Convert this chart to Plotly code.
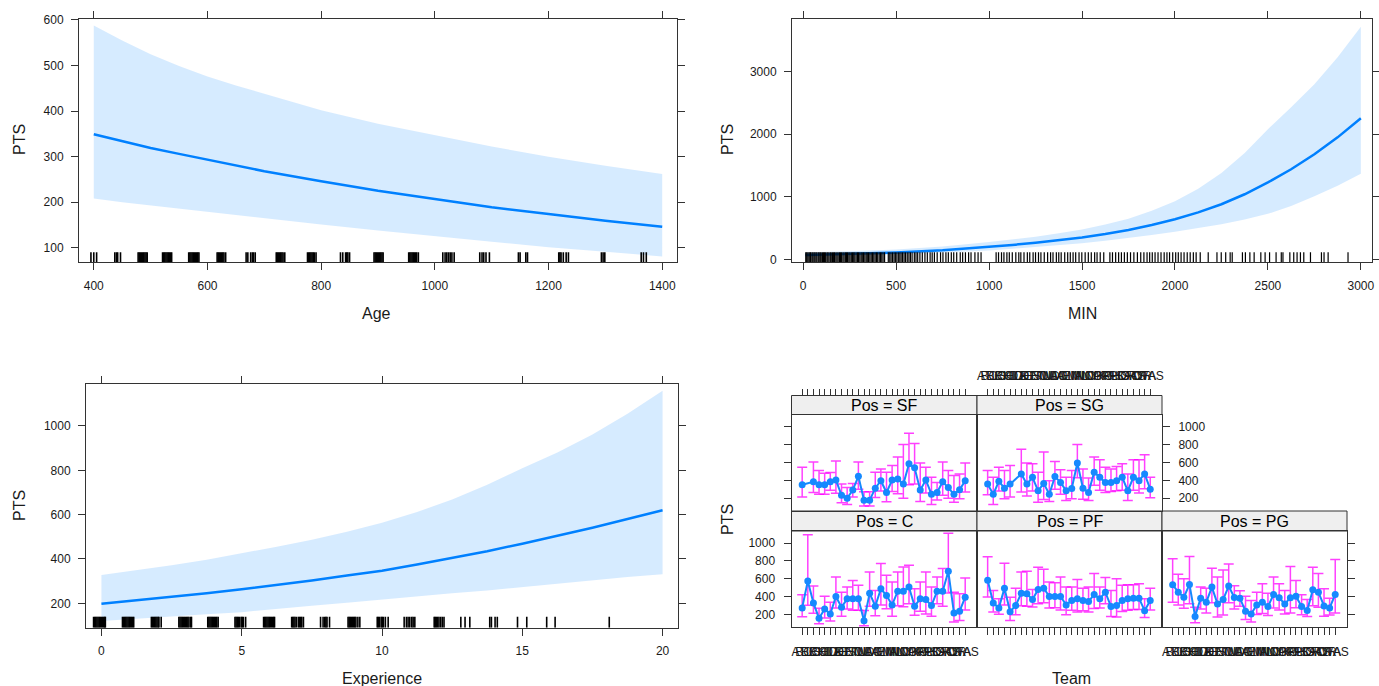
import plotly.graph_objects as go

W, H = 1379, 686
FONT = "Liberation Sans, Arial, sans-serif"
LINE_BLUE = "#0080FF"
PT_BLUE = "#1589FF"
BAND = "rgba(0,128,255,0.16)"
BAR = "rgba(255,0,255,0.75)"
BOX = "#333333"
TXT = "#1a1a1a"

# ---------------- data: continuous effects ----------------
age_x = [400, 450, 500, 550, 600, 650, 700, 800, 900, 1000, 1100, 1200, 1300, 1400]
age_fit = [349, 334, 319, 306, 293, 280, 268, 246, 225, 207, 189, 174, 159, 146]
age_upper = [588, 555, 525, 499, 476, 456, 438, 402, 372, 347, 322, 300, 280, 262]
age_lower = [208, 200, 193, 186, 178, 171, 165, 151, 138, 125, 113, 101, 91, 81]
age_rug = [395, 400, 405, 437, 440, 442, 447, 478, 480, 482, 484, 486, 488, 490, 492, 494,
           521, 523, 525, 527, 529, 531, 533, 535, 537, 567, 569, 571, 573, 575, 577, 579, 581,
           583, 585, 617, 619, 621, 623, 625, 627, 629, 632, 668, 671, 676, 679, 681, 684, 721,
           723, 725, 727, 729, 731, 733, 736, 776, 778, 780, 782, 784, 786, 788, 791, 834, 838,
           843, 845, 847, 850, 893, 895, 897, 899, 901, 903, 905, 907, 909, 954, 956, 958, 960,
           962, 964, 966, 968, 971, 1014, 1018, 1021, 1024, 1027, 1030, 1034, 1079, 1083, 1086,
           1090, 1096, 1147, 1150, 1160, 1163, 1218, 1220, 1222, 1226, 1231, 1235, 1293, 1296,
           1299, 1363, 1367, 1372]

min_x = [12, 250, 500, 750, 1000, 1125, 1250, 1375, 1500, 1625, 1750, 1875, 2000, 2125,
         2250, 2375, 2500, 2625, 2750, 2875, 3000]
min_fit = [68, 86, 110, 146, 197, 230, 265, 305, 350, 405, 470, 550, 640, 750,
           880, 1040, 1230, 1440, 1680, 1950, 2255]
min_upper = [112, 128, 158, 205, 275, 315, 360, 415, 475, 555, 650, 775, 930, 1130,
             1380, 1700, 2080, 2430, 2800, 3230, 3720]
min_lower = [41, 58, 77, 104, 141, 168, 195, 224, 258, 295, 340, 390, 440, 497,
             560, 636, 727, 853, 1008, 1177, 1367]
min_rug = [14, 19, 25, 31, 36, 40, 47, 52, 58, 63, 69, 74, 81, 86, 92, 97, 104, 110, 115, 121,
           128, 133, 139, 146, 151, 158, 164, 169, 176, 182, 188, 195, 201, 207, 214, 220, 227,
           233, 239, 246, 252, 259, 266, 272, 278, 285, 292, 298, 305, 312, 318, 325, 332, 339,
           345, 352, 359, 366, 373, 380, 387, 394, 401, 409, 416, 423, 430, 438, 458, 466, 473,
           481, 489, 496, 504, 512, 520, 527, 535, 543, 551, 560, 569, 577, 586, 598, 607, 616,
           628, 641, 655, 668, 683, 694, 706, 721, 739, 752, 768, 781, 797, 810, 826, 845, 858,
           873, 890, 903, 924, 941, 957, 1038, 1051, 1067, 1080, 1096, 1109, 1125, 1144, 1160,
           1171, 1188, 1206, 1219, 1237, 1250, 1266, 1279, 1297, 1315, 1331, 1344, 1362, 1375,
           1388, 1407, 1423, 1437, 1452, 1466, 1484, 1499, 1517, 1534, 1550, 1568, 1581, 1598,
           1617, 1650, 1664, 1681, 1697, 1712, 1728, 1744, 1761, 1779, 1798, 1816, 1833, 1850,
           1864, 1878, 1893, 1909, 1925, 1942, 1957, 1971, 1988, 2004, 2018, 2033, 2049, 2066,
           2082, 2099, 2114, 2136, 2179, 2226, 2249, 2273, 2297, 2308, 2363, 2379, 2403, 2426,
           2462, 2485, 2509, 2544, 2572, 2581, 2618, 2639, 2657, 2675, 2693, 2729, 2788, 2802,
           2824, 2931]

exp_x = [0, 1.25, 2.5, 3.75, 5, 6.25, 7.5, 8.75, 10, 11.25, 12.5, 13.75, 15, 16.25,
         17.5, 18.75, 20]
exp_fit = [198, 213, 229, 245, 263, 282, 303, 325, 347, 375, 404, 435, 469, 504,
           541, 580, 620]
exp_upper = [328, 349, 372, 397, 425, 455, 487, 523, 564, 612, 668, 735, 809, 880,
             962, 1055, 1159]
exp_lower = [120, 130, 141, 151, 160, 175, 189, 202, 215, 230, 245, 258, 271, 289,
             304, 319, 331]
exp_rug = [-0.28, -0.24, -0.2, -0.16, -0.12, -0.08, -0.04, 0.0, 0.04, 0.08, 0.12, 0.14,
           0.75, 0.79, 0.83, 0.87, 0.91, 0.95, 0.99, 1.03, 1.07, 1.11, 1.15,
           1.78, 1.82, 1.86, 1.9, 1.94, 1.98, 2.02, 2.05, 2.13,
           2.76, 2.8, 2.84, 2.88, 2.92, 2.96, 3.0, 3.04, 3.08, 3.12, 3.18, 3.21,
           3.79, 3.83, 3.87, 3.91, 3.95, 3.99, 4.03, 4.07, 4.11, 4.16,
           4.76, 4.8, 4.84, 4.88, 4.92, 4.98, 5.02, 5.06, 5.14,
           5.78, 5.82, 5.86, 5.9, 5.94, 5.98, 6.02, 6.06, 6.1, 6.14, 6.17,
           6.78, 6.82, 6.86, 6.9, 6.95, 7.02, 7.06, 7.1, 7.14, 7.2,
           7.81, 7.9, 7.96, 8.0, 8.04, 8.13,
           8.79, 8.83, 8.87, 8.91, 8.95, 8.99, 9.03, 9.07, 9.14, 9.21,
           9.83, 9.87, 9.91, 9.97, 10.01, 10.05, 10.12, 10.22,
           10.79, 10.87, 10.93, 10.99, 11.06, 11.11, 11.17,
           11.86, 11.9, 11.94, 11.98, 12.03, 12.09, 12.15, 12.21,
           12.81, 12.96, 13.13, 13.84, 13.9, 14.03, 14.11, 14.83, 15.16, 15.87, 16.17, 18.1]

# ---------------- data: Team x Pos effects ----------------
teams = ["ATL", "BOS", "BRK", "CHI", "CHO", "CLE", "DAL", "DEN", "DET", "GSW",
         "HOU", "IND", "LAC", "LAL", "MEM", "MIA", "MIL", "MIN", "NOP", "NYK",
         "OKC", "ORL", "PHI", "PHO", "POR", "SAC", "SAS", "TOR", "UTA", "WAS"]

sf_fit = [351, None, 385, 351, 351, 385, 404, 234, 200, 291, 445, 177, 177, 313, 396,
          264, 404, 415, 358, 585, 540, 291, 404, 245, 264, 385, 321, 245, 294, 396]
sf_upper = [547, None, 604, 509, 479, 487, 615, 358, 321, 366, 604, 272, 272, 491, 528,
            491, 566, 660, 800, 925, 811, 593, 547, 434, 377, 604, 509, 453, 472, 593]
sf_lower = [215, None, 264, 245, 245, 290, 255, 150, 130, 215, 300, 115, 113, 210, 280,
            160, 275, 250, 200, 350, 359, 165, 260, 130, 180, 235, 200, 155, 195, 270]

sg_fit = [358, 245, 389, 313, 358, None, 472, 358, 434, 283, 366, 245, 442, 377, 283,
          309, 593, 313, 264, 491, 434, 377, 377, 396, 434, 283, 434, 396, 472, 302]
sg_upper = [509, 434, 547, 509, 566, None, 747, 593, 585, 491, 717, 396, 611, 517, 434,
            509, 800, 528, 426, 660, 630, 547, 528, 555, 585, 472, 630, 630, 687, 434]
sg_lower = [240, 130, 280, 195, 215, None, 270, 225, 280, 155, 187, 165, 300, 245, 175,
            195, 430, 190, 175, 345, 290, 265, 275, 283, 290, 175, 290, 260, 305, 205]

c_fit = [272, 574, 328, 155, 260, 204, 400, 279, 374, 374, 374, 128, 438, 291, 487,
         411, 306, 460, 460, 506, 291, 374, 366, 298, 460, 460, 683, 215, 234, 392]
c_upper = [419, 1094, 517, 268, 404, 336, 619, 449, 506, 581, 525, 242, 676, 468, 770,
           638, 562, 676, 732, 751, 487, 562, 676, 506, 619, 713, 1110, 449, 430, 608]
c_lower = [172, 301, 212, 95, 160, 126, 270, 178, 260, 245, 245, 72, 290, 185, 305,
           262, 180, 295, 285, 320, 190, 235, 205, 180, 320, 290, 440, 115, 132, 248]

pf_fit = [582, 328, 272, 494, 230, 298, 438, 430, 366, 479, 494, 400, 400, 400, 306,
          355, 374, 355, 343, 423, 374, 449, 287, 298, 355, 374, 381, 381, 241, 355]
pf_upper = [845, 468, 374, 774, 392, 494, 676, 683, 479, 728, 706, 562, 555, 619, 506,
            506, 592, 494, 506, 657, 506, 612, 468, 600, 525, 532, 532, 543, 374, 494]
pf_lower = [395, 225, 200, 305, 132, 195, 295, 290, 283, 320, 330, 270, 275, 250, 195,
            245, 225, 240, 225, 265, 272, 318, 177, 170, 232, 245, 255, 255, 165, 250]

pg_fit = [532, 449, 392, 536, 177, 381, 336, 506, 317, 366, 517, 389, 381, 234, 204,
          306, 336, 287, 423, 385, 317, 385, 404, 287, 242, 475, 449, 294, 272, 423]
pg_upper = [823, 649, 600, 849, 279, 506, 494, 717, 619, 698, 766, 521, 464, 404, 355,
            449, 543, 438, 619, 543, 468, 736, 581, 420, 366, 728, 657, 487, 381, 815]
pg_lower = [335, 305, 268, 320, 107, 260, 215, 330, 170, 192, 330, 260, 290, 142, 113,
            197, 210, 187, 270, 250, 205, 215, 275, 195, 175, 295, 280, 180, 192, 215]

# ---------------- helpers ----------------
def px(x):
    return x / W


def py(y):
    return 1 - y / H


fig = go.Figure()


def band_and_line(xs, fit, lo, up, xa, ya):
    fig.add_trace(go.Scatter(x=xs + xs[::-1], y=up + lo[::-1], mode="lines", fill="toself",
                             fillcolor=BAND, line=dict(width=0), xaxis=xa, yaxis=ya,
                             hoverinfo="skip", showlegend=False))
    fig.add_trace(go.Scatter(x=xs, y=fit, mode="lines", line=dict(color=LINE_BLUE, width=2.5),
                             xaxis=xa, yaxis=ya, showlegend=False))


def rug(vals, yr, frac, xa, ya, width):
    y0 = yr[0]
    y1 = yr[0] + frac * (yr[1] - yr[0])
    xs, ys = [], []
    for v in vals:
        xs += [v, v, None]
        ys += [y0, y1, None]
    fig.add_trace(go.Scatter(x=xs, y=ys, mode="lines", line=dict(color="black", width=width),
                             xaxis=xa, yaxis=ya, hoverinfo="skip", showlegend=False))


tickfont = dict(family=FONT, size=12, color=TXT)


def cont_axis(domain, rng, tickvals, anchor):
    return dict(domain=domain, range=rng, tickvals=tickvals, ticks="outside", ticklen=7,
                tickwidth=1, tickcolor=BOX, showline=True, linecolor=BOX, linewidth=1,
                mirror="ticks", showgrid=False, zeroline=False, anchor=anchor,
                tickfont=tickfont, ticklabelstandoff=5, automargin=False, fixedrange=True)


# ---------------- continuous panels ----------------
age_yr = [68, 601.5]
min_yr = [-48, 3838]
exp_yr = [90, 1188]

band_and_line(age_x, age_fit, age_lower, age_upper, "x", "y")
rug(age_rug, age_yr, 0.041, "x", "y", 1.6)
band_and_line(min_x, min_fit, min_lower, min_upper, "x2", "y2")
rug(min_rug, min_yr, 0.041, "x2", "y2", 1.2)
band_and_line(exp_x, exp_fit, exp_lower, exp_upper, "x3", "y3")
rug(exp_rug, exp_yr, 0.045, "x3", "y3", 1.6)

layout = dict(
    xaxis=cont_axis([px(79), px(677)], [374, 1426], [400, 600, 800, 1000, 1200, 1400], "y"),
    yaxis=cont_axis([py(262.3), py(19.3)], age_yr, [100, 200, 300, 400, 500, 600], "x"),
    xaxis2=cont_axis([px(792), px(1372)], [-60, 3060], [0, 500, 1000, 1500, 2000, 2500, 3000], "y2"),
    yaxis2=cont_axis([py(262.3), py(19.3)], min_yr, [0, 1000, 2000, 3000], "x2"),
    xaxis3=cont_axis([px(86), px(678)], [-0.55, 20.55], [0, 5, 10, 15, 20], "y3"),
    yaxis3=cont_axis([py(627.7), py(384.3)], exp_yr, [200, 400, 600, 800, 1000], "x3"),
)

# ---------------- Team x Pos panels ----------------
pos_x = list(range(1, len(teams) + 1))
fx_range = [-0.9, 32.1]
fy_range = [58, 1135]
fy_ticks = [200, 400, 600, 800, 1000]

top_panel = (414.5, 511)
top_strip = (395.5, 414.5)
bot_panel = (531, 627)
bot_strip = (511, 531)
panels = [
    ("SF", sf_fit, sf_lower, sf_upper, (791.5, 977), top_panel, top_strip, False, False, "left", True, False),
    ("SG", sg_fit, sg_lower, sg_upper, (977, 1162), top_panel, top_strip, False, False, "right", True, True),
    ("C", c_fit, c_lower, c_upper, (791.5, 977), bot_panel, bot_strip, True, True, "left", True, True),
    ("PF", pf_fit, pf_lower, pf_upper, (977, 1162), bot_panel, bot_strip, True, False, "left", False, False),
    ("PG", pg_fit, pg_lower, pg_upper, (1162, 1347), bot_panel, bot_strip, True, True, "right", True, False),
]

shapes = []
annotations = []
for i, (name, fit, lo, up, xp, yp, sp, xt, xl, yside, yt, yl) in enumerate(panels):
    k = i + 4
    xa, ya = f"x{k}", f"y{k}"
    err_up = [None if f is None else u - f for f, u in zip(fit, up)]
    err_dn = [None if f is None else f - l for f, l in zip(fit, lo)]
    fig.add_trace(go.Scatter(
        x=pos_x, y=fit, mode="lines+markers", connectgaps=True,
        line=dict(color=PT_BLUE, width=2), marker=dict(color=PT_BLUE, size=7),
        error_y=dict(type="data", symmetric=False, array=err_up, arrayminus=err_dn,
                     color=BAR, thickness=1.5, width=5),
        xaxis=xa, yaxis=ya, showlegend=False))
    layout[f"xaxis{k}"] = dict(
        domain=[px(xp[0]), px(xp[1])], range=fx_range, anchor=ya, tickvals=pos_x,
        ticktext=teams, tickangle=0, ticks="outside" if xt else "", ticklen=7,
        tickcolor=BOX, showticklabels=xl, showline=True, linecolor=BOX, mirror=True,
        showgrid=False, zeroline=False, tickfont=tickfont, ticklabelstandoff=7,
        automargin=False, fixedrange=True)
    layout[f"yaxis{k}"] = dict(
        domain=[py(yp[1]), py(yp[0])], range=fy_range, anchor=xa, side=yside,
        tickvals=fy_ticks, ticks="outside" if yt else "", ticklen=7, tickcolor=BOX,
        showticklabels=yl, showline=True, linecolor=BOX, mirror=True, showgrid=False,
        zeroline=False, tickfont=tickfont, ticklabelstandoff=6, automargin=False,
        fixedrange=True)
    shapes.append(dict(type="rect", xref="paper", yref="paper", x0=px(xp[0]), x1=px(xp[1]),
                       y0=py(sp[1]), y1=py(sp[0]), fillcolor="#EFEFEF",
                       line=dict(color=BOX, width=1), layer="below"))
    annotations.append(dict(text=f"Pos = {name}", xref="paper", yref="paper",
                            x=px((xp[0] + xp[1]) / 2), y=py((sp[0] + sp[1]) / 2),
                            xanchor="center", yanchor="middle", showarrow=False,
                            font=dict(family=FONT, size=16, color="black")))

# top tick axes above the upper strips
for k, base, xp, lab in [(9, "x4", (791.5, 977), False), (10, "x5", (977, 1162), True)]:
    layout[f"xaxis{k}"] = dict(
        domain=[px(xp[0]), px(xp[1])], range=fx_range, overlaying=base, side="top",
        anchor="free", position=py(395.5), tickvals=pos_x, ticktext=teams, tickangle=0,
        ticks="outside", ticklen=7, tickcolor=BOX, showticklabels=lab, showline=False,
        showgrid=False, zeroline=False, tickfont=tickfont, ticklabelstandoff=4,
        automargin=False, fixedrange=True)
    fig.add_trace(go.Scatter(x=[pos_x[0]], y=[fy_range[0]], mode="markers",
                             marker=dict(opacity=0), xaxis=f"x{k}",
                             yaxis="y4" if k == 9 else "y5", hoverinfo="skip",
                             showlegend=False))

# axis titles
title_font = dict(family=FONT, size=16, color=TXT)
for text, x, y, ang in [("PTS", 19, 140, -90), ("Age", 377, 313, 0),
                        ("PTS", 727, 140, -90), ("MIN", 1082, 313, 0),
                        ("PTS", 19, 506, -90), ("Experience", 382, 678, 0),
                        ("PTS", 727, 520, -90), ("Team", 1071, 678, 0)]:
    annotations.append(dict(text=text, xref="paper", yref="paper", x=px(x), y=py(y),
                            xanchor="center", yanchor="middle", textangle=ang,
                            showarrow=False, font=title_font))

fig.update_layout(
    width=W, height=H, margin=dict(l=0, r=0, t=0, b=0, pad=0),
    paper_bgcolor="white", plot_bgcolor="white", showlegend=False,
    shapes=shapes, annotations=annotations, font=dict(family=FONT), **layout)

fig.write_html("out.html", include_plotlyjs=True, config={"displayModeBar": False},
               post_script="document.body.style.margin='0px';document.body.style.overflow='hidden';")
